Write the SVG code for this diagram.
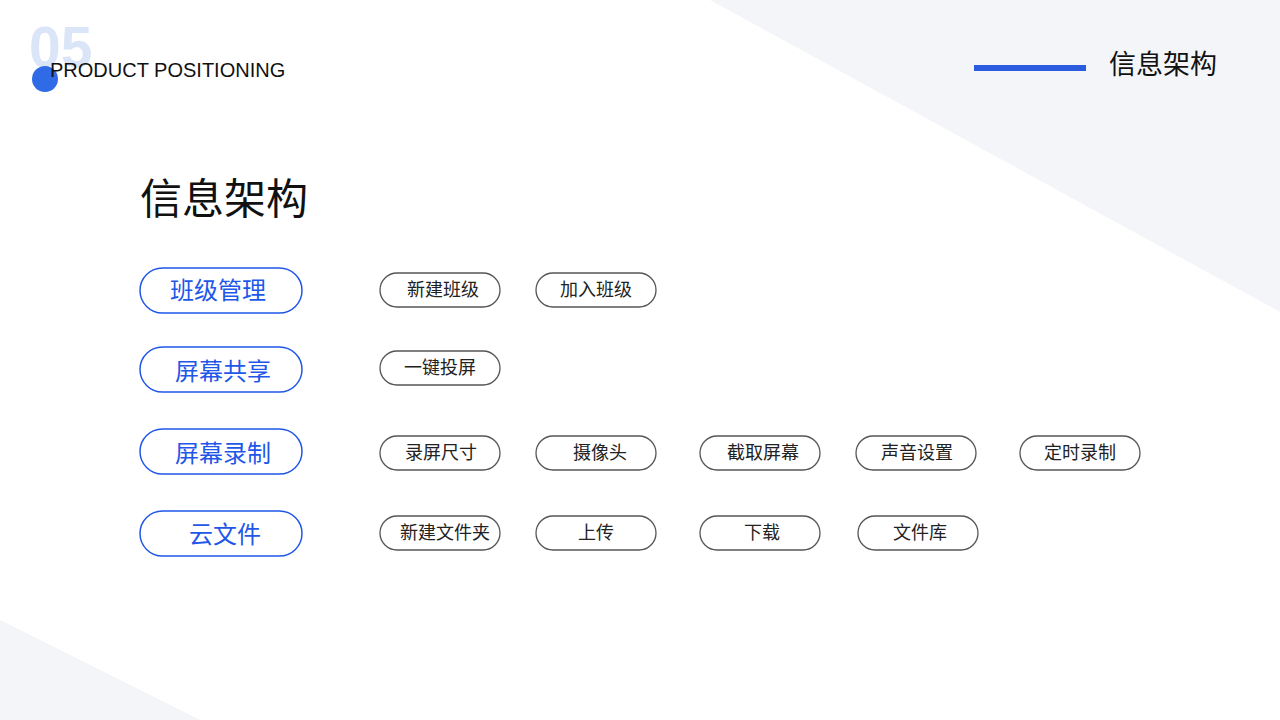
<svg xmlns="http://www.w3.org/2000/svg" width="1280" height="720" viewBox="0 0 1280 720">
<style>
text{font-family:"Noto Sans CJK SC","Liberation Sans",sans-serif}
.main rect{fill:#fff;stroke:#1f57e8;stroke-width:1.5}
.main text{fill:#1f57e8;font-size:24px;text-anchor:middle}
.sub rect{fill:#fff;stroke:#555;stroke-width:1.3}
.sub text{fill:#222;font-size:18px;text-anchor:middle}
</style>
<rect width="1280" height="720" fill="#fff"/>
<polygon points="710,0 1280,0 1280,312" fill="#f4f5f9"/>
<polygon points="0,620 200,720 0,720" fill="#f4f5f9"/>
<g id="header">
<text x="29" y="67" font-weight="bold" font-size="57" fill="#dbe5f8" style="font-family:'Liberation Sans',sans-serif">05</text>
<circle cx="45" cy="79" r="13" fill="#2f6be6"/>
<text x="50" y="77" font-size="20" fill="#111" style="font-family:'Liberation Sans',sans-serif">PRODUCT POSITIONING</text>
<rect x="974" y="65" width="112" height="6" fill="#2b5ce0"/>
<text x="1109" y="74" font-size="27" fill="#111">信息架构</text>
<text x="140" y="214" font-size="42" fill="#111">信息架构</text>
</g>
<g id="connectors"></g>
<g id="n-banji" class="main"><rect x="140" y="268" width="162" height="45" rx="22.5"/><text x="218" y="299">班级管理</text></g>
<g id="n-gongxiang" class="main"><rect x="140" y="347" width="162" height="45" rx="22.5"/><text x="223" y="380">屏幕共享</text></g>
<g id="n-luzhi" class="main"><rect x="140" y="429" width="162" height="45" rx="22.5"/><text x="223" y="462">屏幕录制</text></g>
<g id="n-yun" class="main"><rect x="140" y="511" width="162" height="45" rx="22.5"/><text x="225" y="543">云文件</text></g>
<g id="s1" class="sub"><rect x="380" y="273" width="120" height="34" rx="17"/><text x="443" y="296">新建班级</text></g>
<g id="s2" class="sub"><rect x="536" y="273" width="120" height="34" rx="17"/><text x="596" y="296">加入班级</text></g>
<g id="s3" class="sub"><rect x="380" y="351" width="120" height="34" rx="17"/><text x="440" y="374">一键投屏</text></g>
<g id="s4" class="sub"><rect x="380" y="436" width="120" height="34" rx="17"/><text x="441" y="459">录屏尺寸</text></g>
<g id="s5" class="sub"><rect x="536" y="436" width="120" height="34" rx="17"/><text x="600" y="459">摄像头</text></g>
<g id="s6" class="sub"><rect x="700" y="436" width="120" height="34" rx="17"/><text x="763" y="459">截取屏幕</text></g>
<g id="s7" class="sub"><rect x="856" y="436" width="120" height="34" rx="17"/><text x="917" y="459">声音设置</text></g>
<g id="s8" class="sub"><rect x="1020" y="436" width="120" height="34" rx="17"/><text x="1080" y="459">定时录制</text></g>
<g id="s9" class="sub"><rect x="380" y="516" width="120" height="34" rx="17"/><text x="445" y="539">新建文件夹</text></g>
<g id="s10" class="sub"><rect x="536" y="516" width="120" height="34" rx="17"/><text x="596" y="539">上传</text></g>
<g id="s11" class="sub"><rect x="700" y="516" width="120" height="34" rx="17"/><text x="762" y="539">下载</text></g>
<g id="s12" class="sub"><rect x="858" y="516" width="120" height="34" rx="17"/><text x="920" y="539">文件库</text></g>
</svg>
